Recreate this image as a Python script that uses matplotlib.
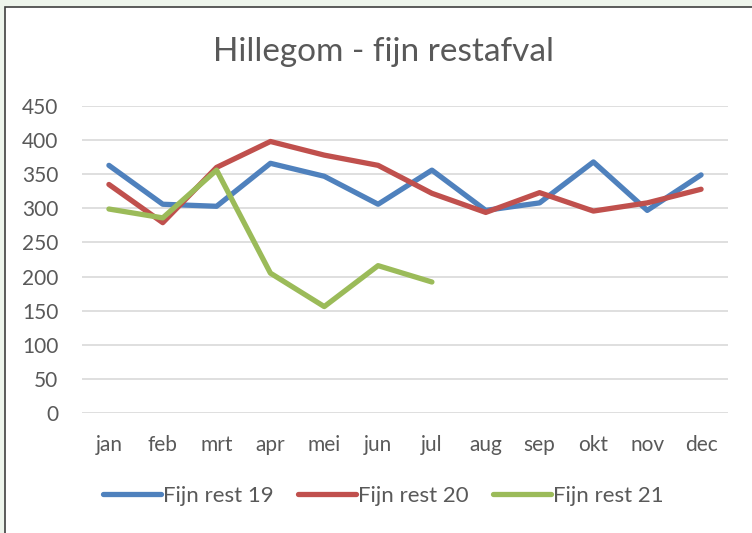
import matplotlib.pyplot as plt
from matplotlib.patches import Rectangle

maanden = ['jan', 'feb', 'mrt', 'apr', 'mei', 'jun', 'jul', 'aug', 'sep', 'okt', 'nov', 'dec']
rest19 = [363, 306, 303, 366, 347, 306, 356, 297, 308, 368, 297, 349]
rest20 = [335, 279, 360, 398, 378, 363, 322, 294, 323, 296, 308, 328]
rest21 = [299, 286, 356, 205, 156, 216, 192]
yticks = [0, 50, 100, 150, 200, 250, 300, 350, 400, 450]

plt.rcParams['font.family'] = ['Lato', 'DejaVu Sans']

fig = plt.figure(figsize=(7.52, 5.33), dpi=100)
fig.patch.set_facecolor('#eef5ec')
# white chart area with dark frame
fig.patches.append(Rectangle((5 / 752, -0.02), 1.0, (533 - 7) / 533 + 0.02,
                             transform=fig.transFigure, facecolor='white',
                             edgecolor='#404040', linewidth=1.2, zorder=-5))

ax = fig.add_axes([82 / 752, 120 / 533, 646 / 752, 307 / 533])
ax.set_facecolor('none')

x = range(len(maanden))
ax.plot(x, rest19, color='#4F81BD', lw=3.8, solid_capstyle='round', solid_joinstyle='round', label='Fijn rest 19')
ax.plot(x, rest20, color='#C0504D', lw=3.8, solid_capstyle='round', solid_joinstyle='round', label='Fijn rest 20')
ax.plot(range(len(rest21)), rest21, color='#9BBB59', lw=3.8, solid_capstyle='round', solid_joinstyle='round', label='Fijn rest 21')

ax.set_xlim(-0.5, 11.5)
ax.set_ylim(0, 450)
ax.set_yticks(yticks)
ax.set_xticks(list(x))
ax.set_xticklabels(maanden)
ax.grid(axis='y', color='#d9d9d9', lw=1.2)
ax.set_axisbelow(True)
for s in ax.spines.values():
    s.set_visible(False)
ax.tick_params(length=0, labelsize=15, colors='#595959')
ax.tick_params(axis='x', pad=16)
ax.tick_params(axis='y', pad=17)

fig.text(0.51, 0.902, 'Hillegom - fijn restafval', ha='center', va='center', fontsize=24, color='#595959')

leg = fig.legend(loc='center', bbox_to_anchor=(0.51, 0.07), ncol=3, frameon=False,
                 fontsize=16, handlelength=2.6, handletextpad=0.1, columnspacing=1.1)
for t in leg.get_texts():
    t.set_color('#595959')

fig.savefig('out.png', dpi=100, facecolor=fig.get_facecolor())
